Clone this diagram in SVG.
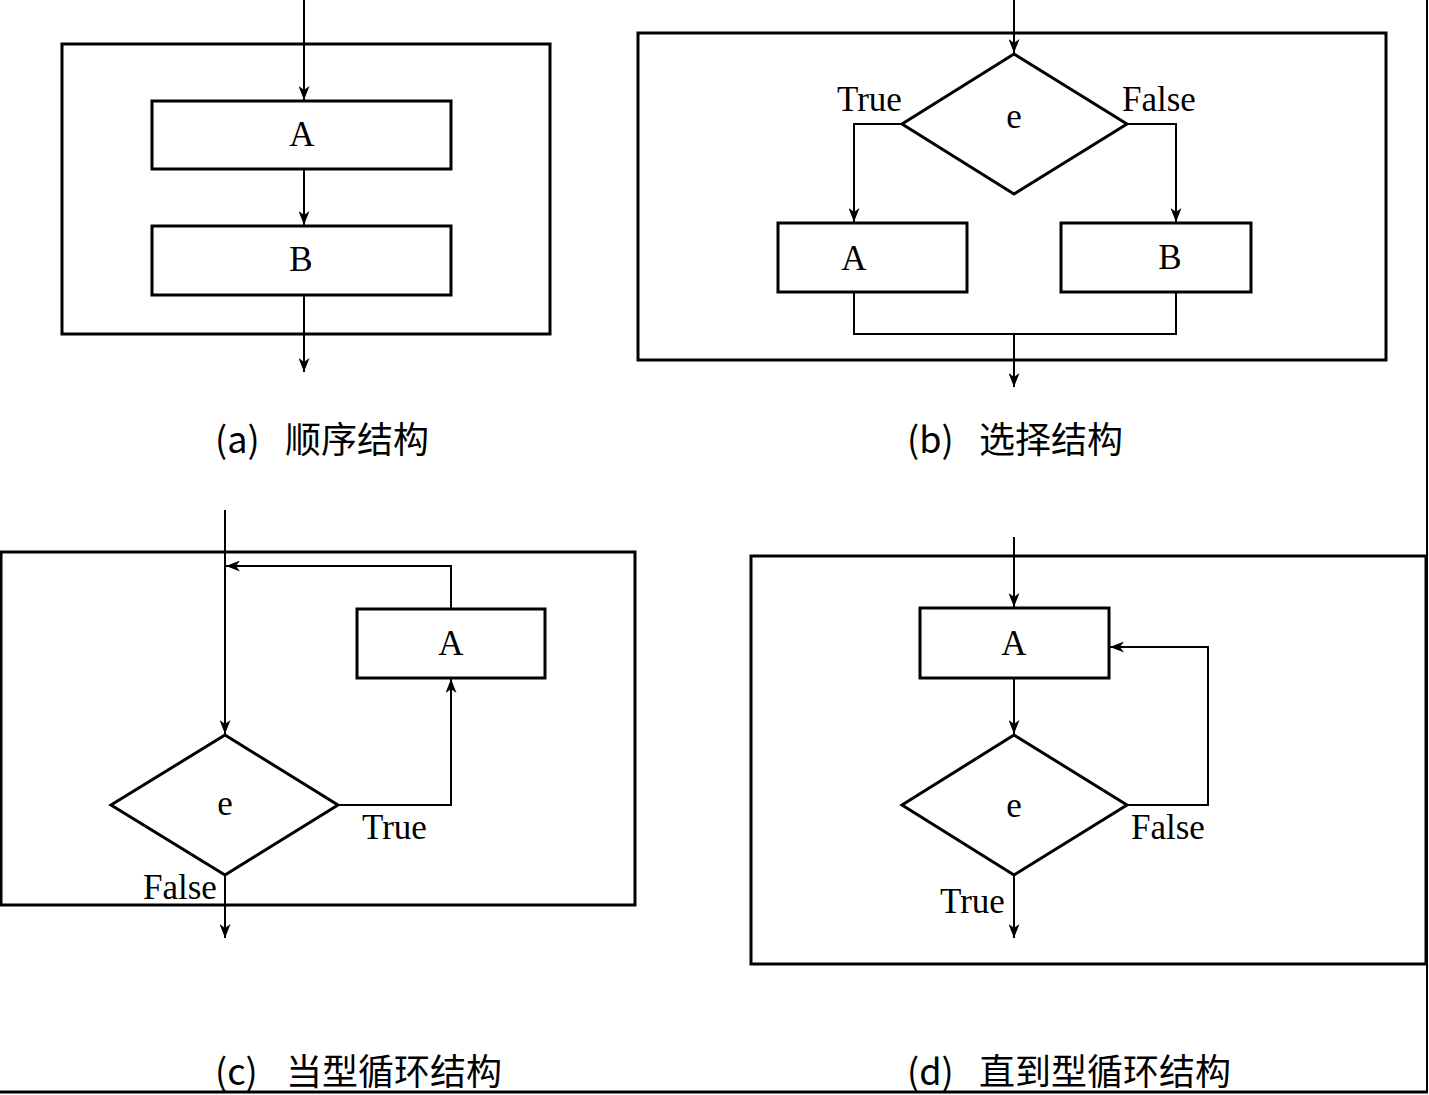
<svg xmlns="http://www.w3.org/2000/svg" width="1429" height="1095" viewBox="0 0 1429 1095">
<style>
.frame{fill:none;stroke:#000;stroke-width:3}
.box{fill:#fff;stroke:#000;stroke-width:3}
.con{fill:none;stroke:#000;stroke-width:2}
.lbl{font-family:"Liberation Serif","Times New Roman",serif;font-size:35px;fill:#000}
.mid{text-anchor:middle}
.cap{font-family:"Noto Sans CJK SC","Noto Sans",sans-serif;font-size:36px;fill:#000}
</style>
<defs>
<marker id="arr" markerUnits="userSpaceOnUse" markerWidth="15" markerHeight="11" refX="14" refY="5.5" orient="auto">
<path d="M0,0 L14,5.5 L0,11 L4,5.5 z" fill="#000"/>
</marker>
</defs>
<rect width="1429" height="1095" fill="#fff"/>
<g id="page-border">
<line x1="1427" y1="0" x2="1427" y2="1093" class="con"/>
<line x1="0" y1="1092" x2="1428" y2="1092" stroke="#000" stroke-width="3"/>
</g>
<g id="frames">
<rect id="frame-a" x="62" y="44" width="488" height="290" class="frame"/>
<rect id="frame-b" x="638" y="33" width="748" height="327" class="frame"/>
<rect id="frame-c" x="1" y="552" width="634" height="353" class="frame"/>
<rect id="frame-d" x="751" y="556" width="675" height="408" class="frame"/>
</g>
<g id="connectors">
<line x1="304" y1="0" x2="304" y2="100" class="con" marker-end="url(#arr)"/>
<line x1="304" y1="169" x2="304" y2="225" class="con" marker-end="url(#arr)"/>
<line x1="304" y1="295" x2="304" y2="372" class="con" marker-end="url(#arr)"/>
<line x1="1014" y1="0" x2="1014" y2="53" class="con" marker-end="url(#arr)"/>
<polyline points="902,124 854,124 854,222" class="con" marker-end="url(#arr)"/>
<polyline points="1127,124 1176,124 1176,222" class="con" marker-end="url(#arr)"/>
<polyline points="854,292 854,334 1176,334 1176,292" class="con"/>
<line x1="1014" y1="334" x2="1014" y2="387" class="con" marker-end="url(#arr)"/>
<line x1="225" y1="510" x2="225" y2="734" class="con" marker-end="url(#arr)"/>
<polyline points="338,805 451,805 451,679" class="con" marker-end="url(#arr)"/>
<polyline points="451,609 451,566 226,566" class="con" marker-end="url(#arr)"/>
<line x1="225" y1="875" x2="225" y2="938" class="con" marker-end="url(#arr)"/>
<line x1="1014" y1="537" x2="1014" y2="607" class="con" marker-end="url(#arr)"/>
<line x1="1014" y1="678" x2="1014" y2="734" class="con" marker-end="url(#arr)"/>
<polyline points="1127,805 1208,805 1208,647 1110,647" class="con" marker-end="url(#arr)"/>
<line x1="1014" y1="875" x2="1014" y2="938" class="con" marker-end="url(#arr)"/>
</g>
<g id="a-A"><rect x="152" y="101" width="299" height="68" class="box"/><text x="302" y="146" class="lbl mid">A</text></g>
<g id="a-B"><rect x="152" y="226" width="299" height="69" class="box"/><text x="301" y="271" class="lbl mid">B</text></g>
<g id="b-e"><polygon points="1014,54 1127,124 1014,194 902,124" class="box"/><text x="1014" y="128" class="lbl mid">e</text></g>
<g id="b-A"><rect x="778" y="223" width="189" height="69" class="box"/><text x="854" y="270" class="lbl mid">A</text></g>
<g id="b-B"><rect x="1061" y="223" width="190" height="69" class="box"/><text x="1170" y="269" class="lbl mid">B</text></g>
<g id="c-A"><rect x="357" y="609" width="188" height="69" class="box"/><text x="451" y="655" class="lbl mid">A</text></g>
<g id="c-e"><polygon points="225,735 338,805 225,875 111,805" class="box"/><text x="225" y="815" class="lbl mid">e</text></g>
<g id="d-A"><rect x="920" y="608" width="189" height="70" class="box"/><text x="1014" y="655" class="lbl mid">A</text></g>
<g id="d-e"><polygon points="1014,735 1127,805 1014,875 902,805" class="box"/><text x="1014" y="817" class="lbl mid">e</text></g>
<g id="labels">
<text x="837" y="111" class="lbl">True</text>
<text x="1122" y="111" class="lbl">False</text>
<text x="362" y="839" class="lbl">True</text>
<text x="143" y="899" class="lbl">False</text>
<text x="1131" y="839" class="lbl">False</text>
<text x="940" y="913" class="lbl">True</text>
</g>
<g id="captions">
<text y="453" class="cap"><tspan x="215">(a)</tspan><tspan x="285">顺序结构</tspan></text>
<text y="453" class="cap"><tspan x="907">(b)</tspan><tspan x="979">选择结构</tspan></text>
<text y="1085" class="cap"><tspan x="215">(c)</tspan><tspan x="286">当型循环结构</tspan></text>
<text y="1085" class="cap"><tspan x="907">(d)</tspan><tspan x="979">直到型循环结构</tspan></text>
</g>
</svg>
